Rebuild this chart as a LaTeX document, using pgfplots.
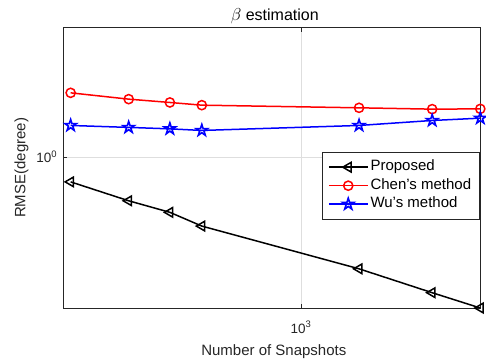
\documentclass[border=0pt]{standalone}
\usepackage{fontspec}
\setmainfont{Liberation Sans}
\usepackage{pgfplots}
\pgfplotsset{compat=1.18}
\usetikzlibrary{plotmarks}
\definecolor{axgray}{gray}{0.15}
\definecolor{gridgray}{gray}{0.87}
\pgfdeclareplotmark{pentagram}{%
  \pgfpathmoveto{\pgfpointpolar{90}{\pgfplotmarksize}}%
  \pgfpathlineto{\pgfpointpolar{126}{0.382\pgfplotmarksize}}%
  \pgfpathlineto{\pgfpointpolar{162}{\pgfplotmarksize}}%
  \pgfpathlineto{\pgfpointpolar{198}{0.382\pgfplotmarksize}}%
  \pgfpathlineto{\pgfpointpolar{234}{\pgfplotmarksize}}%
  \pgfpathlineto{\pgfpointpolar{270}{0.382\pgfplotmarksize}}%
  \pgfpathlineto{\pgfpointpolar{306}{\pgfplotmarksize}}%
  \pgfpathlineto{\pgfpointpolar{342}{0.382\pgfplotmarksize}}%
  \pgfpathlineto{\pgfpointpolar{18}{\pgfplotmarksize}}%
  \pgfpathlineto{\pgfpointpolar{54}{0.382\pgfplotmarksize}}%
  \pgfpathclose\pgfusepathqstroke}
\begin{document}
\begin{tikzpicture}
\begin{loglogaxis}[
  scale only axis,
  width=417pt, height=280.3pt,
  xmin=190, xmax=3500, ymin=0.2, ymax=4,
  clip=false,
  axis line style={axgray, line width=0.7pt},
  tick align=inside,
  major tick length=4pt,
  minor tick num=0,
  every tick/.style={axgray, line width=0.7pt},
  xtick={1000}, xticklabels={10\textsuperscript{3}},
  ytick={1}, yticklabels={10\textsuperscript{0}},
  xminorticks=false, yminorticks=false,
  grid=major,
  major grid style={gridgray, line width=0.7pt},
  xticklabel style={font=\fontsize{13.5}{14}\selectfont, text=axgray, anchor=base, inner sep=0pt, yshift=-25pt},
  yticklabel style={font=\fontsize{13.5}{14}\selectfont, text=axgray, anchor=east, inner sep=0pt, xshift=-6pt, yshift=1pt},
  xlabel={Number of Snapshots},
  ylabel={RMSE(degree)},
  every axis x label/.style={at={(axis description cs:0.5,0)}, anchor=base, yshift=-47pt, xshift=2pt, font=\fontsize{15}{15}\selectfont, text=axgray},
  every axis y label/.style={at={(axis description cs:0,0.5)}, xshift=-41.8pt, anchor=center, rotate=90, font=\fontsize{15}{15}\selectfont, text=axgray},
  title={$\beta$ estimation},
  every axis title/.style={at={(axis description cs:0.5,1)}, anchor=base, yshift=6.7pt, xshift=3pt, font=\fontsize{16}{16}\selectfont, text=black},
  legend cell align=left,
  legend style={at={(0.998,0.558)}, anchor=north east, draw=axgray, line width=0.7pt, fill=white,
    font=\fontsize{15}{15}\selectfont, inner xsep=6pt, inner ysep=6.5pt, row sep=1pt,
    nodes={text height=11pt, text depth=3.5pt, inner ysep=1.5pt}},
  legend image code/.code={%
    \draw[mark repeat=2, mark phase=2] plot coordinates {(0pt,0pt) (19.5pt,0pt) (39pt,0pt)};},
]
\addplot[black, line width=1.5pt, mark=triangle, mark size=5.5pt, mark options={rotate=90, solid, fill=none}]
  coordinates {(200,0.770) (300,0.629) (400,0.556) (500,0.480) (1500,0.304) (2500,0.2355) (3500,0.200)};
\addlegendentry{Proposed}
\addplot[red, line width=1.5pt, mark=o, mark size=4.6pt, mark options={solid, fill=none}]
  coordinates {(200,1.994) (300,1.864) (400,1.799) (500,1.748) (1500,1.699) (2500,1.675) (3500,1.680)};
\addlegendentry{Chen\char"0027 s method}
\addplot[blue, line width=1.5pt, mark=pentagram, mark size=6pt, mark options={solid, fill=none, line width=1.6pt}]
  coordinates {(200,1.407) (300,1.378) (400,1.357) (500,1.334) (1500,1.407) (2500,1.484) (3500,1.521)};
\addlegendentry{Wu\char"0027 s method}
\end{loglogaxis}
\pgfresetboundingbox
\path (current axis.south west) ++(-63.3pt,-55pt) rectangle ++(486pt,363pt);
\end{tikzpicture}
\end{document}
